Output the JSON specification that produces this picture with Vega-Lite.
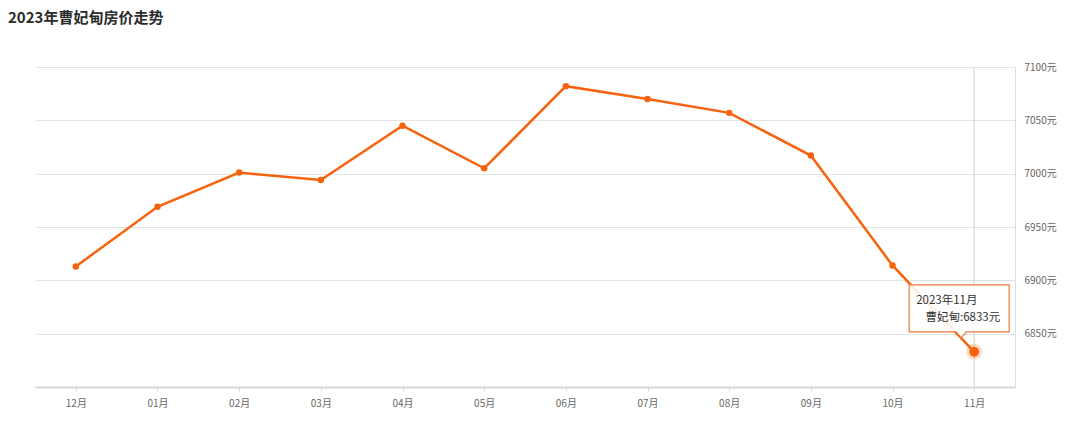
{
  "$schema": "https://vega.github.io/schema/vega-lite/v6.json",
  "width": 980,
  "height": 320,
  "autosize": "none",
  "padding": {"left": 35, "top": 67, "right": 65, "bottom": 34},
  "background": "white",
  "title": {
    "text": "2023年曹妃甸房价走势",
    "anchor": "start",
    "frame": "group",
    "dx": -27,
    "offset": 36,
    "font": "Noto Sans CJK SC",
    "fontSize": 15,
    "fontWeight": "bold",
    "color": "#2b2b2b"
  },
  "config": {
    "view": {"stroke": null},
    "font": "Noto Sans CJK SC"
  },
  "data": {
    "values": [
      {"month": "12月", "full": "2022年12月", "price": 6913},
      {"month": "01月", "full": "2023年01月", "price": 6969},
      {"month": "02月", "full": "2023年02月", "price": 7001},
      {"month": "03月", "full": "2023年03月", "price": 6994},
      {"month": "04月", "full": "2023年04月", "price": 7045},
      {"month": "05月", "full": "2023年05月", "price": 7005},
      {"month": "06月", "full": "2023年06月", "price": 7082},
      {"month": "07月", "full": "2023年07月", "price": 7070},
      {"month": "08月", "full": "2023年08月", "price": 7057},
      {"month": "09月", "full": "2023年09月", "price": 7017},
      {"month": "10月", "full": "2023年10月", "price": 6914},
      {"month": "11月", "full": "2023年11月", "price": 6833}
    ]
  },
  "encoding": {
    "x": {
      "field": "month",
      "type": "ordinal",
      "sort": null,
      "scale": {
        "type": "point",
        "padding": 0.5,
        "domain": ["12月", "01月", "02月", "03月", "04月", "05月", "06月", "07月", "08月", "09月", "10月", "11月"]
      },
      "axis": {
        "title": null,
        "labelAngle": 0,
        "labelFontSize": 10,
        "labelColor": "#666666",
        "labelPadding": 7,
        "domainColor": "#d9d9d9",
        "domainWidth": 2,
        "tickColor": "#d9d9d9",
        "tickSize": 4,
        "grid": false
      }
    },
    "y": {
      "field": "price",
      "type": "quantitative",
      "scale": {"domain": [6800, 7100], "nice": false, "zero": false},
      "axis": {
        "orient": "right",
        "title": null,
        "values": [6850, 6900, 6950, 7000, 7050, 7100],
        "labelExpr": "datum.value + '元'",
        "labelFontSize": 10,
        "labelColor": "#666666",
        "labelPadding": 9,
        "ticks": false,
        "domainColor": "#dddddd",
        "gridColor": "#e3e3e3",
        "grid": true
      }
    }
  },
  "layer": [
    {
      "transform": [{"filter": "datum.month === '11月'"}],
      "mark": {"type": "rule", "color": "#d0d0d0", "strokeWidth": 1},
      "encoding": {"y": null}
    },
    {
      "mark": {"type": "line", "color": "#f7630c", "strokeWidth": 2.5}
    },
    {
      "mark": {"type": "circle", "color": "#f7630c", "opacity": 1, "size": 42}
    },
    {
      "transform": [{"filter": "datum.month === '11月'"}],
      "mark": {"type": "circle", "color": "#f7630c", "opacity": 0.25, "size": 240}
    },
    {
      "transform": [{"filter": "datum.month === '11月'"}],
      "mark": {"type": "circle", "color": "#f7630c", "opacity": 1, "size": 95}
    },
    {
      "transform": [{"filter": "datum.month === '11月'"}],
      "mark": {
        "type": "point",
        "shape": "M-0.65,-0.67 L0.35,-0.67 L0.35,-0.20 L-0.08,-0.20 L-0.13,-0.14 L-0.18,-0.20 L-0.65,-0.20 Z",
        "size": 40000,
        "filled": true,
        "fill": "white",
        "fillOpacity": 0.88,
        "stroke": "#ef7a3c",
        "strokeWidth": 1.2,
        "opacity": 1
      }
    },
    {
      "transform": [{"filter": "datum.month === '11月'"}],
      "mark": {"type": "text", "align": "left", "baseline": "middle", "dx": -58, "dy": -51, "fontSize": 11.5, "color": "#333333"},
      "encoding": {"text": {"field": "full"}}
    },
    {
      "transform": [
        {"filter": "datum.month === '11月'"},
        {"calculate": "'曹妃甸:' + datum.price + '元'", "as": "tip"}
      ],
      "mark": {"type": "text", "align": "right", "baseline": "middle", "dx": 26, "dy": -34, "fontSize": 11.5, "color": "#333333"},
      "encoding": {"text": {"field": "tip"}}
    }
  ]
}
